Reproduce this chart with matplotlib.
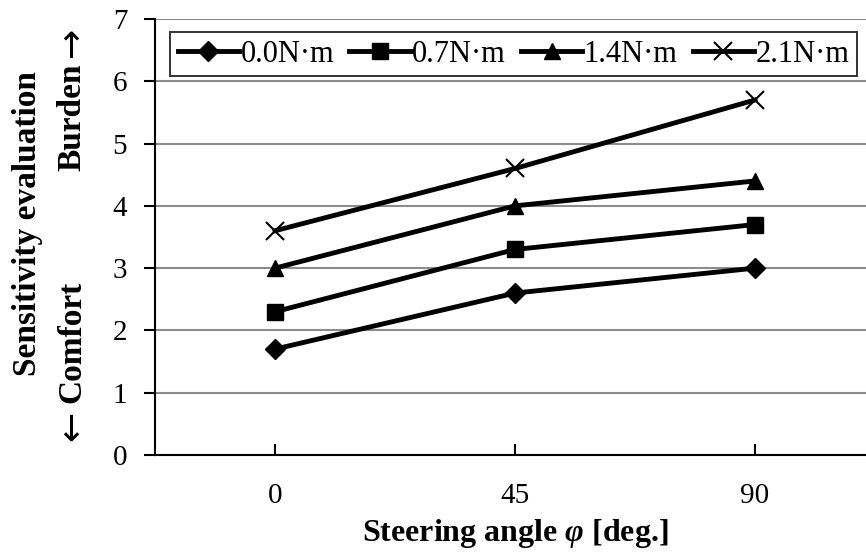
import matplotlib
matplotlib.use('Agg')
import matplotlib.pyplot as plt

plt.rcParams['font.family'] = ['Liberation Serif', 'DejaVu Serif']
plt.rcParams['mathtext.fontset'] = 'custom'
plt.rcParams['mathtext.it'] = 'Liberation Serif:bold:italic'
plt.rcParams['mathtext.rm'] = 'Liberation Serif:bold'

# data
angles = ['0', '45', '90']
torque_labels = ['0.0N·m', '0.7N·m', '1.4N·m', '2.1N·m']
t00 = [1.7, 2.6, 3.0]
t07 = [2.3, 3.3, 3.7]
t14 = [3.0, 4.0, 4.4]
t21 = [3.6, 4.6, 5.7]
yticks = [0, 1, 2, 3, 4, 5, 6, 7]

fig = plt.figure(figsize=(8.66, 5.57), dpi=100)
ax = fig.add_axes([155/866, 102/557, 720/866, 436/557])

xs = range(len(angles))
ax.plot(xs, t00, color='black', lw=3.5, marker='D', ms=10, label=torque_labels[0])
ax.plot(xs, t07, color='black', lw=3.5, marker='s', ms=11, label=torque_labels[1])
ax.plot(xs, t14, color='black', lw=3.5, marker='^', ms=12, label=torque_labels[2])
ax.plot(xs, t21, color='black', lw=3.5, marker='x', ms=13, mew=1.5, label=torque_labels[3])

ax.set_xlim(-0.5, 2.5)
ax.set_ylim(0, 7)
ax.set_yticks(yticks)
ax.set_xticks(list(xs))
ax.set_xticklabels(angles)
ax.yaxis.grid(True, color='#8c8c8c', lw=1.5)
ax.set_axisbelow(True)

for s in ['top', 'right']:
    ax.spines[s].set_visible(False)
for s in ['left', 'bottom']:
    ax.spines[s].set_linewidth(1.5)

ax.tick_params(axis='x', direction='in', length=8, width=1.5, pad=20, labelsize=21)
ax.tick_params(axis='y', direction='out', length=8, width=1.5, pad=12, labelsize=21)

ax.set_xlabel(r'Steering angle $\varphi$ [deg.]', fontsize=23, fontweight='bold', labelpad=6)

# two-line y label, arrows drawn as separate thin glyphs
fig.text(28/866, 1 - 224/557, 'Sensitivity evaluation', rotation=90, ha='center', va='center',
         fontsize=24, fontweight='bold')
fig.text(72/866, 1 - 342/557, 'Comfort', rotation=90, ha='center', va='center',
         fontsize=24, fontweight='bold')
fig.text(72/866, 1 - 117/557, 'Burden', rotation=90, ha='center', va='center',
         fontsize=24, fontweight='bold')
fig.text(72/866, 1 - 426/557, '\u2190', rotation=90, ha='center', va='center',
         fontsize=26, family='DejaVu Sans')
fig.text(72/866, 1 - 42/557, '\u2192', rotation=90, ha='center', va='center',
         fontsize=26, family='DejaVu Sans')

leg = ax.legend(loc='upper right', bbox_to_anchor=(857/866, 1 - 32/557), bbox_transform=fig.transFigure,
                ncol=4, fontsize=22, frameon=True, fancybox=False, edgecolor='black',
                handlelength=2.0, handletextpad=0.05, columnspacing=0.5, borderpad=0.25,
                borderaxespad=0)
leg.get_frame().set_linewidth(1.4)

fig.savefig('out.png', dpi=100)
